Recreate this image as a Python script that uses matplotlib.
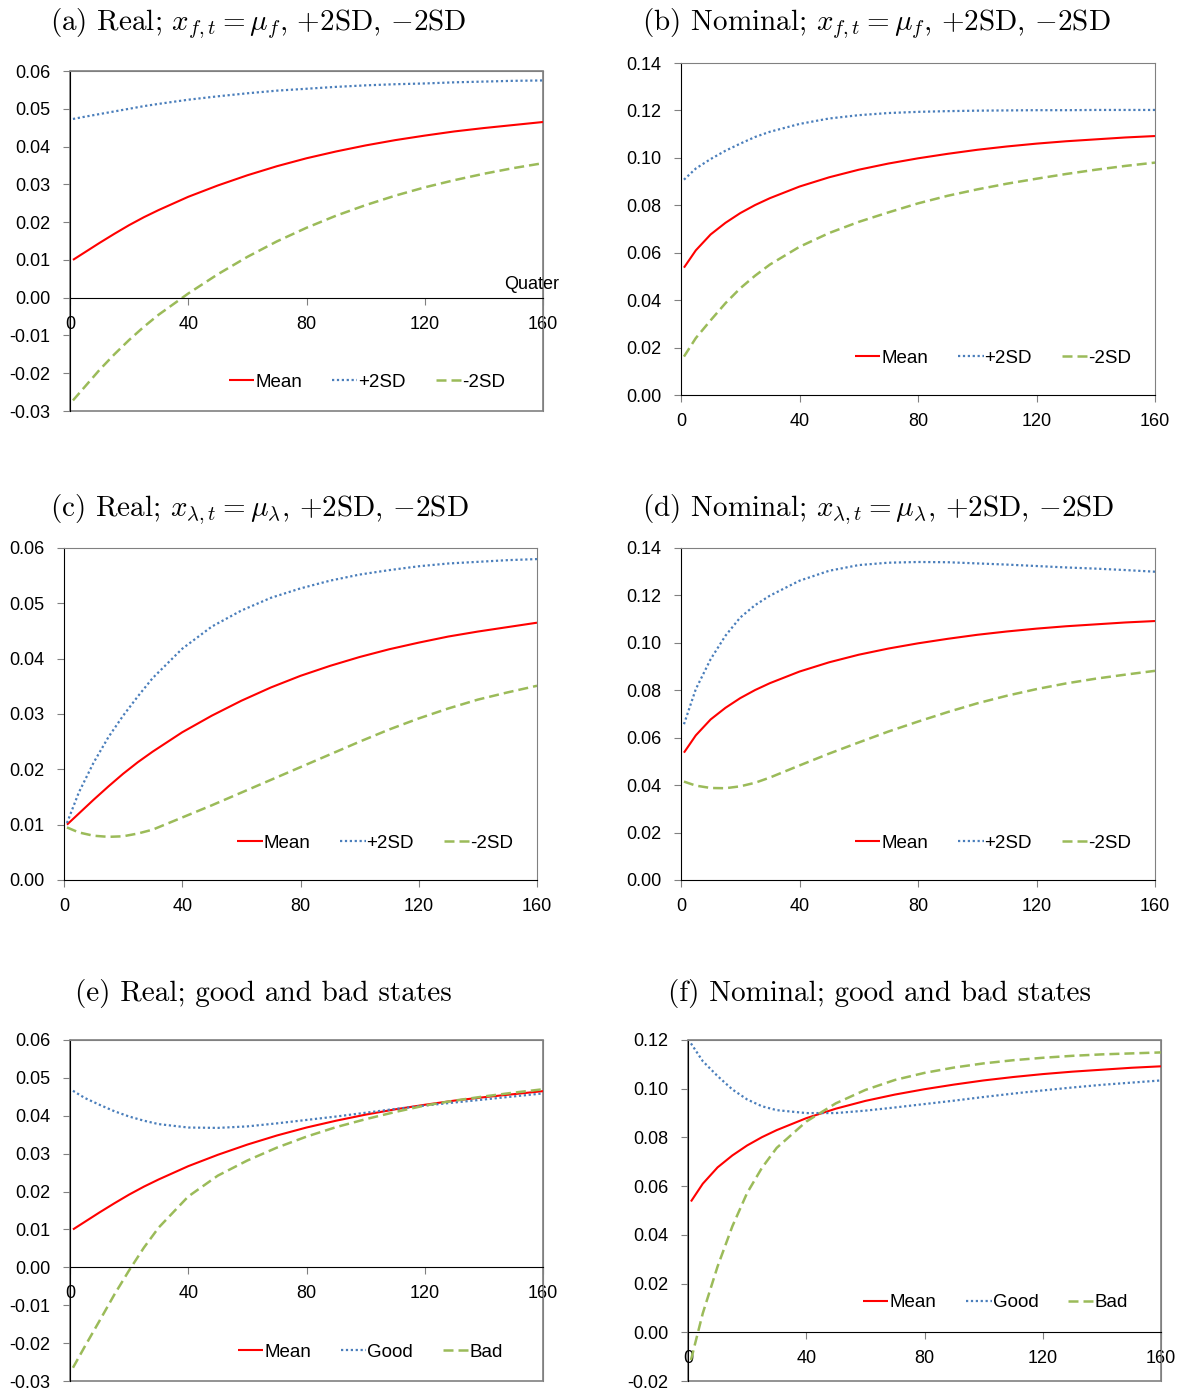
import matplotlib
matplotlib.use('Agg')
import matplotlib.pyplot as plt
from matplotlib.patches import Rectangle
from matplotlib.ticker import FormatStrFormatter

plt.rcParams['font.family'] = ['Liberation Sans', 'DejaVu Sans']
plt.rcParams['mathtext.fontset'] = 'cm'

# quarters
T = [1, 5, 10, 15, 20, 25, 30, 40, 50, 60, 70, 80, 90, 100, 110, 120, 130, 140, 150, 160]

real_mean = [0.0100, 0.0120, 0.0145, 0.0169, 0.0192, 0.0213, 0.0232, 0.0267, 0.0297, 0.0324,
             0.0348, 0.0369, 0.0387, 0.0403, 0.0417, 0.0429, 0.0440, 0.0449, 0.0457, 0.0465]
nom_mean = [0.0537, 0.0610, 0.0677, 0.0726, 0.0767, 0.0801, 0.0830, 0.0879, 0.0918, 0.0950,
            0.0976, 0.0998, 0.1017, 0.1034, 0.1048, 0.1060, 0.1070, 0.1078, 0.1086, 0.1092]

# x_f shocks
real_f_up = [0.0473, 0.0479, 0.0486, 0.0493, 0.0500, 0.0507, 0.0513, 0.0524, 0.0533, 0.0541,
             0.0548, 0.0553, 0.0558, 0.0562, 0.0565, 0.0567, 0.0570, 0.0572, 0.0574, 0.0575]
real_f_dn = [-0.0272, -0.0236, -0.0191, -0.0150, -0.0112, -0.0077, -0.0045, 0.0011, 0.0062, 0.0108,
             0.0149, 0.0185, 0.0217, 0.0245, 0.0270, 0.0292, 0.0311, 0.0328, 0.0343, 0.0356]
nom_f_up = [0.0908, 0.0955, 0.0995, 0.1030, 0.1060, 0.1088, 0.1110, 0.1143, 0.1166, 0.1180,
            0.1189, 0.1194, 0.1197, 0.1199, 0.1200, 0.1201, 0.1201, 0.1202, 0.1202, 0.1202]
nom_f_dn = [0.0162, 0.0240, 0.0315, 0.0387, 0.0450, 0.0503, 0.0550, 0.0625, 0.0683, 0.0730,
            0.0770, 0.0808, 0.0840, 0.0867, 0.0891, 0.0912, 0.0932, 0.0950, 0.0966, 0.0980]

# x_lambda shocks
real_l_up = [0.0103, 0.0158, 0.0212, 0.0258, 0.0297, 0.0332, 0.0365, 0.0418, 0.0458, 0.0487,
             0.0510, 0.0527, 0.0541, 0.0552, 0.0560, 0.0567, 0.0572, 0.0575, 0.0578, 0.0580]
real_l_dn = [0.0095, 0.0086, 0.0080, 0.0078, 0.0079, 0.0084, 0.0091, 0.0113, 0.0135, 0.0158,
             0.0181, 0.0204, 0.0227, 0.0250, 0.0272, 0.0292, 0.0310, 0.0326, 0.0339, 0.0351]
nom_l_up = [0.0657, 0.0805, 0.0931, 0.1030, 0.1107, 0.1159, 0.1199, 0.1262, 0.1304, 0.1328,
            0.1338, 0.1341, 0.1340, 0.1335, 0.1330, 0.1324, 0.1318, 0.1313, 0.1307, 0.1300]
nom_l_dn = [0.0415, 0.0398, 0.0388, 0.0387, 0.0395, 0.0410, 0.0432, 0.0483, 0.0533, 0.0580,
            0.0626, 0.0668, 0.0708, 0.0745, 0.0777, 0.0805, 0.0829, 0.0849, 0.0866, 0.0882]

# good / bad states
real_good = [0.0466, 0.0447, 0.0429, 0.0412, 0.0398, 0.0387, 0.0378, 0.0369, 0.0368, 0.0372,
             0.0380, 0.0389, 0.0398, 0.0408, 0.0418, 0.0427, 0.0435, 0.0443, 0.0451, 0.0459]
real_bad = [-0.0265, -0.0209, -0.0141, -0.0072, -0.0008, 0.0052, 0.0105, 0.0187, 0.0242, 0.0282,
            0.0316, 0.0345, 0.0370, 0.0391, 0.0410, 0.0427, 0.0440, 0.0451, 0.0461, 0.0470]
nom_good = [0.1186, 0.1113, 0.1052, 0.0997, 0.0956, 0.0928, 0.0912, 0.0900, 0.0900, 0.0910,
            0.0923, 0.0937, 0.0951, 0.0966, 0.0980, 0.0993, 0.1005, 0.1016, 0.1025, 0.1034]
nom_bad = [-0.0114, 0.0078, 0.0270, 0.0435, 0.0572, 0.0675, 0.0757, 0.0865, 0.0940, 0.0995,
           0.1036, 0.1065, 0.1087, 0.1104, 0.1117, 0.1127, 0.1135, 0.1141, 0.1145, 0.1149]

x_ticks = [0, 40, 80, 120, 160]

titles = [r'(a) Real; $x_{f,t} = \mu_f$, $+$2SD, $-$2SD',
          r'(b) Nominal; $x_{f,t} = \mu_f$, $+$2SD, $-$2SD',
          r'(c) Real; $x_{\lambda,t} = \mu_\lambda$, $+$2SD, $-$2SD',
          r'(d) Nominal; $x_{\lambda,t} = \mu_\lambda$, $+$2SD, $-$2SD',
          '(e) Real; good and bad states',
          '(f) Nominal; good and bad states']

W, H = 1184, 1392
fig = plt.figure(figsize=(W / 100, H / 100), dpi=100)


def px_axes(l, t, r, b):
    return fig.add_axes([l / W, 1 - b / H, (r - l) / W, (b - t) / H])


def panel(ax, mean, up, dn, labels, ymin, ymax, step, leg_x, leg_y):
    ax.plot(T, mean, color='#ff0000', lw=1.5, label=labels[0], solid_capstyle='butt')
    ax.plot(T, up, color='#4a7ebb', lw=1.6, ls=(0, (1, 1.2)), label=labels[1])
    ax.plot(T, dn, color='#9bbb59', lw=1.8, ls=(0, (4, 2)), label=labels[2])
    ax.set_xlim(0, 160)
    ax.set_ylim(ymin, ymax)
    n = int(round((ymax - ymin) / step))
    ax.set_yticks([ymin + i * step for i in range(n + 1)])
    ax.set_xticks(x_ticks)
    ax.yaxis.set_major_formatter(FormatStrFormatter('%.2f'))
    ax.tick_params(labelsize=13, direction='out', length=5, color='#808080', pad=9)
    ax.tick_params(axis='x', pad=8)
    for s in ['top', 'right']:
        ax.spines[s].set_color('#808080')
    ax.spines['left'].set_color('black')
    ax.spines['bottom'].set_color('black')
    if ymin < 0:
        ax.spines['bottom'].set_position(('data', 0))
        ax.add_patch(Rectangle((0, 0), 1, 1, transform=ax.transAxes, fill=False,
                               edgecolor='#808080', lw=1.2, clip_on=False, zorder=0))
    ax.legend(loc='center right', bbox_to_anchor=(leg_x, leg_y), ncol=3, frameon=False,
              fontsize=13.5, handlelength=1.35, handletextpad=0.05, columnspacing=1.6,
              borderaxespad=0, borderpad=0)


ax_a = px_axes(70, 71, 543, 411)
panel(ax_a, real_mean, real_f_up, real_f_dn, ['Mean', '+2SD', '-2SD'],
      -0.03, 0.06, 0.01, 0.92, 0.085)
ax_a.text(156, 0.0012, 'Quater', fontsize=13, ha='center', va='bottom')

ax_b = px_axes(681, 63, 1155, 395)
panel(ax_b, nom_mean, nom_f_up, nom_f_dn, ['Mean', '+2SD', '-2SD'],
      0.0, 0.14, 0.02, 0.95, 0.111)

ax_c = px_axes(64, 548, 537, 880)
panel(ax_c, real_mean, real_l_up, real_l_dn, ['Mean', '+2SD', '-2SD'],
      0.0, 0.06, 0.01, 0.95, 0.111)

ax_d = px_axes(681, 548, 1155, 880)
panel(ax_d, nom_mean, nom_l_up, nom_l_dn, ['Mean', '+2SD', '-2SD'],
      0.0, 0.14, 0.02, 0.95, 0.111)

ax_e = px_axes(70, 1040, 543, 1381)
panel(ax_e, real_mean, real_good, real_bad, ['Mean', 'Good', 'Bad'],
      -0.03, 0.06, 0.01, 0.915, 0.085)

ax_f = px_axes(688, 1040, 1161, 1381)
panel(ax_f, nom_mean, nom_good, nom_bad, ['Mean', 'Good', 'Bad'],
      -0.02, 0.12, 0.02, 0.93, 0.229)

title_pos = [(50, 30), (642, 30), (50, 516), (642, 516), (75, 1001), (668, 1001)]
for (x, y), t in zip(title_pos, titles):
    fig.text(x / W, 1 - y / H, t, fontsize=21, family='cmr10', ha='left', va='baseline')

fig.savefig('out.png', dpi=100)
